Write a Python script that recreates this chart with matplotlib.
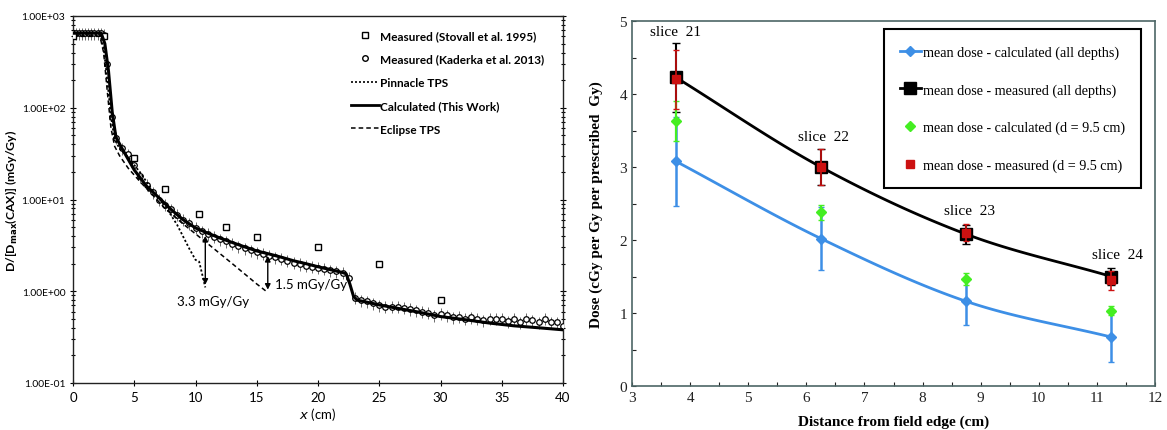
import numpy as np
import matplotlib
matplotlib.use("Agg")
import matplotlib.pyplot as plt
from matplotlib.lines import Line2D
from matplotlib.ticker import FixedLocator, LogLocator, MultipleLocator, NullFormatter

# ---------------- Left panel data ----------------
calc_x = [0, 2.3, 2.6, 2.9, 3.2, 3.5, 4, 5, 6, 7, 8, 9, 10, 11, 12, 13, 14, 15, 16, 17, 18,
          19, 20, 21, 22, 22.3, 22.6, 22.9, 23.2, 24, 25, 26, 28, 30, 32, 34, 36, 38, 40]
calc_y = [650, 650, 500, 250, 90, 48, 36, 21, 14, 10.5, 7.8, 6.0, 4.9, 4.3, 3.8, 3.4, 3.05,
          2.75, 2.55, 2.35, 2.15, 2.0, 1.85, 1.72, 1.6, 1.55, 1.2, 0.88, 0.8, 0.76, 0.71, 0.67,
          0.6, 0.53, 0.49, 0.45, 0.42, 0.4, 0.38]

pinn_x = [0, 2.2, 2.5, 2.8, 3.1, 3.4, 3.8, 4.5, 5.5, 6.5, 7.5, 8.5, 9.5, 10.0, 10.3, 10.8]
pinn_y = [620, 620, 450, 200, 80, 45, 36, 29, 19.5, 12.5, 8.6, 5.3, 2.9, 2.2, 2.1, 1.1]

ecl_x = [0, 2.2, 2.5, 2.8, 3.1, 3.4, 3.8, 4.5, 5.5, 6.5, 7.5, 9, 11, 13, 15, 15.9]
ecl_y = [600, 600, 400, 150, 60, 38, 30, 22, 15.5, 11.2, 8.0, 5.4, 3.3, 2.0, 1.2, 0.97]

stov_x = [0, 2.5, 5, 7.5, 10.3, 12.5, 15, 20, 25, 30]
stov_y = [600, 600, 28, 13, 7.0, 5.0, 3.9, 3.0, 2.0, 0.8]

kad_x = [0.0, 0.25, 0.5, 0.75, 1.0, 1.25, 1.5, 1.75, 2.0, 2.25, 2.5, 2.8, 3.2,
         3.5, 4.0, 4.5, 5.0, 5.5, 6.0, 6.5, 7.0, 7.5, 8.0, 8.5, 9.0, 9.5, 10.0, 10.5,
         11.0, 11.5, 12.0, 12.5, 13.0, 13.5, 14.0, 14.5, 15.0, 15.5, 16.0, 16.5, 17.0,
         17.5, 18.0, 18.5, 19.0, 19.5, 20.0, 20.5, 21.0, 21.5, 22.0, 22.5, 23.0, 23.5,
         24.0, 24.5, 25.0, 25.5, 26.0, 26.5, 27.0, 27.5, 28.0, 28.5, 29.0, 29.5, 30.0,
         30.5, 31.0, 31.5, 32.0, 32.5, 33.0, 33.5, 34.0, 34.5, 35.0, 35.5, 36.0, 36.5,
         37.0, 37.5, 38.0, 38.5, 39.0, 39.5, 40.0]
kad_y = [650, 650, 650, 650, 650, 650, 650, 650, 650, 650, 620, 300, 80,
         47, 36, 31, 24, 18, 14.5, 12, 10, 8.8, 7.8, 6.8, 6.0, 5.5, 4.9, 4.5,
         4.2, 3.9, 3.7, 3.5, 3.3, 3.1, 2.95, 2.8, 2.65, 2.55, 2.45, 2.35, 2.25,
         2.15, 2.05, 1.98, 1.9, 1.85, 1.8, 1.75, 1.7, 1.65, 1.6, 1.4, 0.85, 0.8,
         0.78, 0.74, 0.7, 0.68, 0.68, 0.68, 0.66, 0.64, 0.62, 0.6, 0.58, 0.55, 0.57,
         0.55, 0.52, 0.53, 0.5, 0.52, 0.5, 0.48, 0.5, 0.5, 0.5, 0.47, 0.5, 0.46,
         0.5, 0.48, 0.46, 0.5, 0.46, 0.46, 0.42]
kad_rel_err = 0.15

left_yticks = [0.1, 1, 10, 100, 1000]
left_yticklabels = ["1.00E-01", "1.00E+00", "1.00E+01", "1.00E+02", "1.00E+03"]
left_xticks = [0, 5, 10, 15, 20, 25, 30, 35, 40]

# ---------------- Right panel data ----------------
dist = [3.75, 6.25, 8.75, 11.25]
calc_all = [3.08, 2.02, 1.16, 0.67]
calc_all_err = [0.61, 0.43, 0.32, 0.34]
meas_all = [4.23, 3.00, 2.08, 1.50]
meas_all_err = [0.47, 0.25, 0.13, 0.12]
calc_d95 = [3.63, 2.38, 1.47, 1.03]
calc_d95_err = [0.27, 0.10, 0.08, 0.06]
meas_d95 = [4.20, 3.00, 2.10, 1.45]
meas_d95_err = [0.40, 0.24, 0.12, 0.13]
slice_labels = ["slice  21", "slice  22", "slice  23", "slice  24"]
slice_label_x = [3.75, 6.3, 8.8, 11.35]
slice_label_y = [4.85, 3.42, 2.4, 1.8]

# ---------------- Figure ----------------
fig = plt.figure(figsize=(11.67, 4.31), dpi=100)
sans = ["Lato", "DejaVu Sans"]
serif = ["Liberation Serif", "DejaVu Serif"]

axL = fig.add_axes([73/1167, 1-384/431, (563-73)/1167, (384-17)/431])
axL.set_yscale("log")
axL.set_xlim(0, 40)
axL.set_ylim(0.1, 1000)

kx = np.array(kad_x); ky = np.array(kad_y)
axL.errorbar(kx, ky, yerr=ky*kad_rel_err, fmt="none", ecolor="#555555", elinewidth=0.6, capsize=0, zorder=2)
axL.plot(kx, ky, linestyle="none", marker="o", markersize=4, markerfacecolor="white",
         markeredgecolor="black", markeredgewidth=0.9, zorder=3)
axL.plot(stov_x, stov_y, linestyle="none", marker="s", markersize=5, markerfacecolor="white",
         markeredgecolor="black", markeredgewidth=1.0, zorder=4)
axL.plot(pinn_x, pinn_y, linestyle=(0, (1.2, 1.2)), color="black", linewidth=1.3, zorder=3)
axL.plot(ecl_x, ecl_y, linestyle=(0, (3, 2)), color="black", linewidth=1.1, zorder=3)
axL.plot(calc_x, calc_y, linestyle="-", color="black", linewidth=2.2, zorder=5)

axL.annotate("", xy=(10.8, 1.1), xytext=(10.8, 4.3),
             arrowprops=dict(arrowstyle="<|-|>", color="black", lw=1.0, mutation_scale=8), zorder=6)
axL.annotate("", xy=(15.9, 0.97), xytext=(15.9, 2.6),
             arrowprops=dict(arrowstyle="<|-|>", color="black", lw=1.0, mutation_scale=8), zorder=6)
axL.text(11.4, 0.78, "3.3 mGy/Gy", ha="center", va="center", fontsize=9.5, family=sans)
axL.text(16.5, 1.2, "1.5 mGy/Gy", ha="left", va="center", fontsize=9.5, family=sans)

axL.yaxis.set_major_locator(FixedLocator(left_yticks))
axL.set_yticklabels(left_yticklabels, family=sans, fontsize=7.4)
axL.yaxis.set_minor_locator(LogLocator(base=10, subs=np.arange(2, 10)))
axL.yaxis.set_minor_formatter(NullFormatter())
axL.set_xticks(left_xticks)
axL.set_xticklabels([str(t) for t in left_xticks], family=sans, fontsize=9.5)
axL.tick_params(axis="both", which="both", direction="inout", right=True, top=False, length=4, width=0.8)
axL.tick_params(axis="y", which="minor", length=2.5)
for s in axL.spines.values():
    s.set_linewidth(1.0)
    s.set_color("#222222")
axL.set_xlabel(r"$\it{x}$ (cm)", fontsize=9.5, family=sans, labelpad=2)
axL.set_ylabel(r"D/[D$_{\mathbf{max}}$(CAX)] (mGy/Gy)", fontsize=8.8, family=sans, fontweight="bold")
axL.yaxis.set_label_coords(-0.108, 0.5)

handlesL = [
    Line2D([], [], linestyle="none", marker="s", markersize=4, markerfacecolor="white", markeredgecolor="black"),
    Line2D([], [], linestyle="none", marker="o", markersize=4, markerfacecolor="white", markeredgecolor="black"),
    Line2D([], [], linestyle=(0, (1.2, 1.2)), color="black", linewidth=1.2),
    Line2D([], [], linestyle="-", color="black", linewidth=2.0),
    Line2D([], [], linestyle=(0, (3, 2)), color="black", linewidth=1.1),
]
labelsL = ["Measured (Stovall et al. 1995)", "Measured (Kaderka et al. 2013)", "Pinnacle TPS",
           "Calculated (This Work)", "Eclipse TPS"]
axL.legend(handlesL, labelsL, loc="upper left", bbox_to_anchor=(0.555, 0.978), frameon=False,
           prop={"family": sans, "size": 8.5, "weight": "bold"}, handlelength=2.4,
           handletextpad=0.1, labelspacing=1.05, borderpad=0)

# ---------------- Right panel ----------------
def smooth(xs, ys, n=40):
    xs = np.asarray(xs, float); ys = np.asarray(ys, float)
    P = np.column_stack([xs, ys])
    P = np.vstack([2*P[0]-P[1], P, 2*P[-1]-P[-2]])
    out = []
    for i in range(1, len(P)-2):
        p0, p1, p2, p3 = P[i-1], P[i], P[i+1], P[i+2]
        t = np.linspace(0, 1, n)[:, None]
        seg = 0.5*((2*p1) + (-p0+p2)*t + (2*p0-5*p1+4*p2-p3)*t**2 + (-p0+3*p1-3*p2+p3)*t**3)
        out.append(seg)
    out = np.vstack(out)
    return out[:, 0], out[:, 1]

axR = fig.add_axes([632/1167, 1-387/431, (1155-632)/1167, (387-22)/431])
axR.set_xlim(3, 12)
axR.set_ylim(0, 5)

blue = "#3d8fe6"; green = "#44ee22"; red = "#cc1111"

sx, sy = smooth(dist, calc_all)
axR.plot(sx, sy, color=blue, linewidth=2.0, zorder=3)
axR.errorbar(dist, calc_all, yerr=calc_all_err, fmt="D", color=blue, markersize=5, ecolor=blue,
             elinewidth=1.8, capsize=2, zorder=4)
sx, sy = smooth(dist, meas_all)
axR.plot(sx, sy, color="black", linewidth=2.0, zorder=3)
axR.errorbar(dist, meas_all, yerr=meas_all_err, fmt="s", color="black", markersize=9, ecolor="black",
             elinewidth=1.5, capsize=3, zorder=5)
axR.errorbar(dist, calc_d95, yerr=calc_d95_err, fmt="D", color=green, markersize=5, ecolor=green,
             elinewidth=1.6, capsize=2, zorder=6)
axR.errorbar(dist, meas_d95, yerr=meas_d95_err, fmt="s", color=red, markersize=5.5, ecolor=red,
             elinewidth=1.2, capsize=2, zorder=7)

for lx, ly, lt in zip(slice_label_x, slice_label_y, slice_labels):
    axR.text(lx, ly, lt, ha="center", va="center", fontsize=11, family=serif)

axR.xaxis.set_major_locator(MultipleLocator(1))
axR.xaxis.set_minor_locator(MultipleLocator(0.5))
axR.yaxis.set_major_locator(MultipleLocator(1))
axR.yaxis.set_minor_locator(MultipleLocator(0.5))
axR.tick_params(axis="both", which="both", direction="in", length=3, width=0.8, labelsize=11, colors="#222222")
for lab in axR.get_xticklabels() + axR.get_yticklabels():
    lab.set_family(serif)
for s in axR.spines.values():
    s.set_linewidth(1.2)
    s.set_color("#4d6666")
axR.set_xlabel("Distance from field edge (cm)", fontsize=11, family=serif, fontweight="bold", labelpad=8)
axR.set_ylabel("Dose (cGy per Gy per prescribed  Gy)", fontsize=11, family=serif, fontweight="bold", labelpad=12)

handlesR = [
    Line2D([], [], color=blue, marker="D", markersize=5, linewidth=2),
    Line2D([], [], color="black", marker="s", markersize=8, linewidth=2),
    Line2D([], [], color=green, marker="D", markersize=5, linestyle="none"),
    Line2D([], [], color=red, marker="s", markersize=6, linestyle="none"),
]
labelsR = ["mean dose - calculated (all depths)", "mean dose - measured (all depths)",
           "mean dose - calculated (d = 9.5 cm)", "mean dose - measured (d = 9.5 cm)"]
legR = axR.legend(handlesR, labelsR, loc="upper right", bbox_to_anchor=(0.987, 0.997),
                  prop={"family": serif, "size": 10.2}, handlelength=1.45, handletextpad=0.15,
                  labelspacing=1.7, borderpad=1.15, fancybox=False, framealpha=1)
legR.get_frame().set_edgecolor("black")
legR.get_frame().set_linewidth(1.5)

fig.savefig("out.png", dpi=100)
